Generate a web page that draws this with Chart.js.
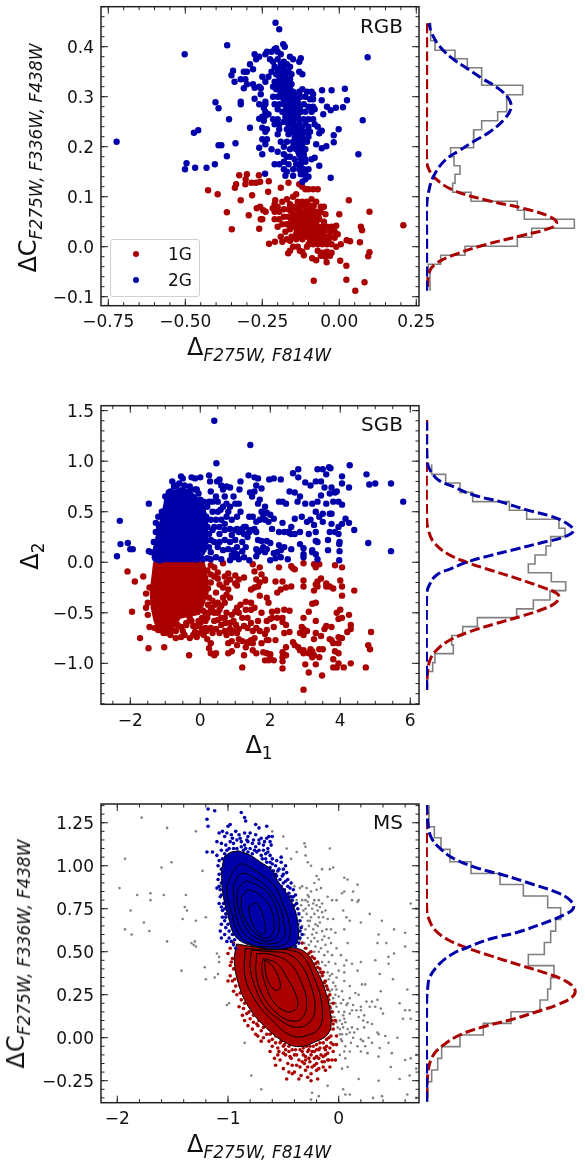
<!DOCTYPE html>
<html>
<head>
<meta charset="utf-8">
<script src="https://cdn.jsdelivr.net/npm/chart.js@4"></script>
<style>
  html, body { margin: 0; padding: 0; background: #fff; }
  body { position: relative; width: 585px; height: 1160px; overflow: hidden; font-family: 'DejaVu Sans', sans-serif; color: #111; }
  canvas { position: absolute; left: 0; }
  .lbl { position: absolute; white-space: nowrap; transform: translate(-50%, -50%); font-size: 24px; line-height: 30px; }
  .lbl.rot { transform: translate(-50%, -50%) rotate(-90deg); }
  .lbl sub { font-size: 17px; vertical-align: -6px; line-height: 0; }
  .lbl sub.i { font-style: italic; }
  .tag { position: absolute; font-size: 20px; line-height: 20px; right: 182px; }
  #legend { position: absolute; left: 110px; top: 239px; width: 88px; height: 56px; border: 1px solid #d0d0d0; border-radius: 3px; background: rgba(255,255,255,.8); font-size: 17px; }
  #legend div { position: absolute; left: 57px; }
  #legend i { position: absolute; left: -35px; top: 7px; width: 6px; height: 6px; border-radius: 50%; }
</style>
</head>
<body>
<canvas id="rgb" width="440" height="346" style="top:0"></canvas>
<canvas id="sgb" width="440" height="346" style="top:400px"></canvas>
<canvas id="ms" width="440" height="346" style="top:798px"></canvas>
<canvas id="rgbSide" width="165" height="346" style="top:0;left:420px"></canvas>
<canvas id="sgbSide" width="165" height="346" style="top:400px;left:420px"></canvas>
<canvas id="msSide" width="165" height="346" style="top:798px;left:420px"></canvas>

<div class="lbl rot" style="left:28px;top:158px">ΔC<sub class="i">F275W, F336W, F438W</sub></div>
<div class="lbl" style="left:259px;top:347px">Δ<sub class="i">F275W, F814W</sub></div>
<div class="tag" style="top:16px">RGB</div>
<div id="legend"></div>

<div class="lbl rot" style="left:30px;top:556px">Δ<sub>2</sub></div>
<div class="lbl" style="left:259px;top:745px">Δ<sub>1</sub></div>
<div class="tag" style="top:414px">SGB</div>

<div class="lbl rot" style="left:16px;top:954px">ΔC<sub class="i">F275W, F336W, F438W</sub></div>
<div class="lbl" style="left:259px;top:1144px">Δ<sub class="i">F275W, F814W</sub></div>
<div class="tag" style="top:812px">MS</div>

<script>
'use strict';

const RED = '#aa0000';
const BLUE = '#0000aa';
const GREY = '#808080';

const seriesNames = ['1G', '2G'];

// tick labels
const rgbXTicks = [-0.75, -0.5, -0.25, 0, 0.25];
const rgbXLabels = ['−0.75', '−0.50', '−0.25', '0.00', '0.25'];
const rgbYTicks = [-0.1, 0, 0.1, 0.2, 0.3, 0.4];
const rgbYLabels = ['−0.1', '0.0', '0.1', '0.2', '0.3', '0.4'];
const sgbXTicks = [-2, 0, 2, 4, 6];
const sgbXLabels = ['−2', '0', '2', '4', '6'];
const sgbYTicks = [-1, -0.5, 0, 0.5, 1, 1.5];
const sgbYLabels = ['−1.0', '−0.5', '0.0', '0.5', '1.0', '1.5'];
const msXTicks = [-2, -1, 0];
const msXLabels = ['−2', '−1', '0'];
const msYTicks = [-0.25, 0, 0.25, 0.5, 0.75, 1, 1.25];
const msYLabels = ['−0.25', '0.00', '0.25', '0.50', '0.75', '1.00', '1.25'];

// RGB scatter, flat x,y lists
const rgb2G = [-.207,.448,-.195,.435,-.364,.403,-.502,.385,.092,.379,-.182,.405,-.177,.4,-.723,.21,-.402,.289,-.392,.277,-.358,.255,-.472,.228,-.458,.233,-.392,.203,-.383,.203,-.337,.207,-.365,.181,-.404,.165,-.431,.158,-.468,.158,-.496,.167,-.501,.155,-.241,.146,-.028,.138,-.065,.162,.062,.185,.076,.253,-.002,.235,-.018,.223,-.018,.209,-.042,.201,-.057,.197,-.075,.205,-.065,.227,-.057,.232,.018,.316,.025,.293,.012,.279,-.011,.278,-.04,.28,-.028,.273,-.052,.265,-.056,.313,-.025,.313,-.057,.293,
-.24,.385,-.235,.39,-.22,.39,-.21,.395,-.205,.397,-.2,.39,-.19,.385,-.16,.38,-.15,.375,-.125,.377,-.13,.37,-.275,.385,-.27,.375,-.26,.38,-.29,.365,-.28,.355,-.31,.35,-.3,.35,-.345,.352,-.35,.343,-.34,.33,-.32,.335,-.305,.335,-.3,.325,-.31,.317,-.28,.325,-.275,.318,-.26,.32,-.255,.317,-.25,.34,-.24,.33,-.23,.34,-.275,.296,-.255,.305,-.32,.29,-.32,.285,-.26,.285,-.24,.29,-.24,.285,-.245,.278,-.24,.27,-.26,.256,-.25,.26,-.24,.262,-.23,.265,-.245,.252,-.29,.238,-.25,.238,-.24,.23,-.235,.235,-.25,.215,-.235,.215,-.24,.205,-.26,.198,-.25,.185,-.22,.195,-.2,.19,-.2,.225,-.19,.21,-.17,.21,-.18,.2,-.16,.195,-.15,.2,-.17,.18,
-.225,.375,-.215,.37,-.2,.375,-.19,.365,-.18,.37,-.17,.365,-.16,.36,-.21,.36,-.2,.355,-.19,.35,-.18,.355,-.165,.35,-.155,.345,-.13,.35,-.12,.345,-.22,.35,-.205,.345,-.195,.34,-.185,.34,-.175,.34,-.16,.335,-.21,.33,-.2,.33,-.19,.325,-.18,.33,-.17,.325,-.155,.325,-.215,.32,-.205,.315,-.195,.315,-.185,.315,-.175,.31,-.16,.315,-.15,.31,-.13,.31,-.12,.315,-.105,.31,-.09,.31,-.085,.305,-.215,.3,-.2,.3,-.19,.3,-.18,.3,-.17,.3,-.16,.3,-.15,.3,-.14,.295,-.125,.3,-.11,.3,-.095,.295,-.085,.295,-.21,.285,-.195,.285,-.18,.285,-.165,.285,-.15,.285,-.135,.285,-.115,.285,-.1,.28,-.085,.28,-.2,.275,-.185,.27,-.17,.27,-.155,.27,-.14,.27,-.125,.27,-.11,.27,-.09,.27,-.08,.275,-.175,.26,-.16,.26,-.145,.26,-.13,.255,-.115,.255,-.1,.255,-.085,.255,-.215,.255,-.2,.255,-.21,.245,-.195,.245,-.18,.25,-.165,.245,-.15,.245,-.13,.245,-.11,.245,-.1,.24,-.08,.245,-.07,.24,-.195,.235,-.17,.235,-.155,.23,-.14,.235,-.125,.23,-.11,.23,-.095,.23,-.165,.225,-.145,.22,-.13,.22,-.115,.215,-.1,.22,-.15,.21,-.135,.205,-.12,.205,-.105,.21,-.14,.195,-.125,.195,-.11,.195,-.13,.185,-.115,.185,-.18,.185,-.16,.18,-.145,.175,-.125,.175,-.11,.175,-.09,.175,-.08,.178,-.21,.165,-.195,.165,-.18,.17,-.165,.165,-.14,.165,-.125,.165,-.11,.17,-.18,.155,-.17,.15,-.15,.155,-.13,.155,-.115,.155,-.1,.155,-.175,.142,-.15,.142,-.125,.145,-.11,.145,-.1,.14,-.12,.13,-.11,.135,
-.188,.358,-.172,.348,-.178,.332,-.192,.33,-.168,.332,-.182,.322,-.165,.318,-.2,.322,-.19,.308,-.175,.305,-.16,.308,-.145,.303,-.18,.292,-.165,.292,-.15,.292,-.135,.29,-.172,.278,-.158,.278,-.142,.278,-.128,.278,-.162,.252,-.148,.252,-.135,.262,-.15,.238,-.135,.242,-.122,.238,-.14,.226,-.12,.225,-.128,.212,-.142,.212,-.122,.2,-.133,.19];
const rgb1G = [.208,.043,.098,.07,.031,.093,.052,-.088,.082,-.071,.023,-.066,-.083,-.068,.023,-.038,.003,-.028,-.041,-.031,.094,-.019,.098,-.011,.067,.009,.035,.011,.024,.013,.07,.04,.074,.033,-.426,.113,-.395,.105,-.365,.069,-.349,.035,-.32,.093,-.325,.143,-.3,.145,-.261,.143,-.304,.135,-.339,.118,-.335,.125,-.305,.125,-.285,.128,-.27,.128,-.257,.13,-.229,.131,-.283,.103,-.231,.11,-.294,.063,-.26,.036,-.255,.055,-.25,.055,-.268,.077,-.257,.08,-.247,.073,-.239,.07,-.216,.077,-.208,.093,-.228,.006,-.209,.01,-.166,-.013,-.16,-.008,-.128,-.008,-.115,-.017,-.088,-.023,-.075,-.027,.0,.065,
-.21,.085,-.2,.08,-.185,.09,-.17,.095,-.16,.085,-.15,.1,-.14,.105,-.13,.125,-.12,.12,-.11,.115,-.1,.115,-.085,.115,-.07,.115,-.165,.128,-.19,.118,-.21,.07,-.195,.07,-.18,.075,-.165,.075,-.15,.08,-.135,.09,-.12,.09,-.105,.09,-.09,.095,-.075,.09,-.06,.08,-.05,.08,-.21,.055,-.195,.055,-.18,.06,-.165,.06,-.15,.065,-.135,.07,-.12,.07,-.105,.075,-.09,.075,-.075,.07,-.06,.07,-.045,.065,-.05,.05,-.2,.04,-.185,.045,-.17,.045,-.155,.05,-.14,.055,-.125,.055,-.11,.06,-.095,.06,-.08,.055,-.065,.055,-.175,.03,-.16,.035,-.145,.04,-.13,.04,-.115,.045,-.1,.045,-.085,.04,-.07,.04,-.055,.04,-.04,.04,-.025,.04,-.01,.042,-.19,.02,-.17,.015,-.155,.02,-.14,.025,-.125,.03,-.11,.03,-.095,.03,-.08,.025,-.065,.03,-.05,.03,-.03,.03,-.015,.03,-.005,.025,-.185,.01,-.16,.012,-.14,.015,-.12,.015,-.105,.02,-.09,.015,-.075,.015,-.06,.015,-.045,.02,-.03,.02,-.015,.018,-.1,.005,-.085,.005,-.07,.005,-.055,.005,-.04,.005,-.025,.005,-.01,0,.005,.005,-.07,-.008,-.055,-.012,-.04,-.01,-.025,-.012,-.06,-.018,-.045,-.02,-.03,-.018,-.15,.0,-.135,.0,-.12,-.01,-.105,.0,
-.158,.072,-.143,.078,-.128,.08,-.113,.082,-.098,.082,-.083,.082,-.158,.057,-.143,.06,-.128,.062,-.113,.066,-.098,.068,-.083,.065,-.068,.062,-.15,.045,-.135,.047,-.12,.05,-.105,.052,-.09,.05,-.075,.048,-.138,.033,-.122,.037,-.107,.038,-.092,.037,-.077,.034,-.062,.034,-.13,.022,-.115,.024,-.1,.024,-.085,.022,-.07,.022,-.055,.024,-.095,.01,-.08,.01,-.065,.01,-.05,.012,-.035,.012];

// SGB scatter
const sgbCore1G = [-1.32,0,.1,0,.22,-.19,.12,-.39,-.03,-.51,-.58,-.55,-.77,-.65,-1.15,-.69,-1.3,-.59,-1.39,-.45,-1.42,-.29,-1.36,-.12];
const sgbCore2G = [-1.33,.01,-.05,.01,.12,.1,.2,.25,.2,.42,.1,.56,-.15,.66,-.5,.74,-.8,.7,-1,.62,-1.1,.45,-1.22,.3,-1.33,.13];
const sgb2G = [.4,1.4,1.43,1.16,.46,.98,-2.38,.06,-2.3,.41,-2.28,.18,-2.07,.19,-2,.13,-1.93,.13,-1.47,.11,-1.47,.58,-1.27,.39,-1.2,.45,-1.05,.5,-1,.65,-.9,.69,-.8,.8,-.68,.76,-.55,.85,-.5,.83,-.3,.75,-.25,.84,-.15,.83,-.1,.72,0,.84,-.05,.68,.25,.86,.28,.8,.3,.7,.48,.8,.55,.82,.6,.76,.45,.65,.35,.6,.5,.6,.65,.72,.75,.75,.85,.74,.7,.65,.95,.65,.58,.52,.65,.55,.75,.58,.8,.5,1,.58,1.1,.58,1.12,.72,1.15,.8,1.38,.86,1.55,.84,1.65,.83,1.6,.76,1.42,.69,1.48,.65,1.55,.7,1.75,.73,1.7,.62,1.65,.58,1.97,.82,2.1,.83,2.3,.82,2.35,.6,2.25,.6,2.45,.58,2.55,.7,2.7,.69,2.65,.88,2.8,.92,2.8,.84,3,.79,3.15,.76,2.78,.6,2.85,.65,3,.58,3.2,.58,3.35,.92,3.5,.92,3.6,.87,3.68,.94,3.72,.93,4.05,.85,3.3,.8,3.45,.8,3.55,.74,3.75,.74,3.9,.7,3.7,.68,3.85,.69,4.05,.78,4.25,.74,4.27,.96,4.75,.87,4.83,.77,5,.78,5.45,.78,5.8,.6,4.8,.19,5.45,.11,3.45,.66,3.35,.6,3.6,.58,3.8,.6,3.95,.6,4.05,.57,3.75,.48,3.7,.48,4.15,.43,4.25,.39,4.05,.38,3.95,.35,4.4,.32,3.75,.38,3.85,.3,3.7,.3,3.65,.22,3.95,.28,3.98,.2,3.97,.18,3.65,.12,3.98,.11,3.97,.02,3.35,.03,3.3,.08,3.2,.1,3.2,.12,3.35,.2,3.3,.21,3.5,.4,3.25,.37,3.15,.42,3.4,.45,3.3,.5,3.5,.48,2.9,.45,3.05,.4,2.7,.43,2.6,.35,2.85,.3,3.1,.28,3.3,.3,2.35,.39,2.4,.3,2.5,.3,2.55,.29,2.6,.28,2.7,.28,2.6,.13,2.85,.18,2.95,.14,2.95,.08,2.95,.05,2.25,.17,2.3,.12,2.2,.1,2.1,.09,2.4,.15,2.5,.03,2,.02,2.15,.04,2.3,.05,1.6,.3,1.6,.4,1.5,.45,1.4,.45,1.7,.42,1.8,.47,1.9,.49,1.75,.5,1.85,.55,2,.47,2.1,.43,1.85,.42,1.95,.4,2.05,.33,2.25,.3,1.75,.21,1.9,.21,2,.19,1.8,.15,1.9,.13,1.75,.12,1.6,.13,1.6,.06,1.65,.1,1.85,.1,1.4,.3,1.2,.33,1,.32,.85,.33,.7,.32,.55,.28,.9,.27,1.1,.3,1.25,.28,.55,.2,.7,.22,.85,.2,1,.22,1.2,.2,1.35,.25,.5,.15,.65,.12,.8,.13,.95,.12,1.05,.15,1.2,.11,1.25,.05,1.4,.02,1.1,.03,.95,.05,.85,.02,.6,.03,.45,.05,.3,.1,.2,.04,.08,.03,-.05,.13,.1,.13,.3,.22,.35,.32,.2,.35,.3,.42,.45,.42,.6,.42,.75,.45,.9,.42,
-1.4,.1,-1.33,.2,-1.27,.3,-1.18,.35,-1.1,.5,-.95,.6,-.85,.7,-.75,.75,-.6,.78,-.45,.76,-.3,.7,-.15,.72,0,.62,.1,.6,.2,.55,.17,.45,.2,.35,.15,.2,.05,.1,0,.05,-.1,.03,-1.2,.1,-1.3,.05,-1.15,.02,.25,.6,.35,.5,.4,.35,.5,.5,.55,.35,.7,.38,.85,.55,1.05,.45,1.15,.5,1.25,.35,1.3,.35,.25,.28,.4,.2,.3,.03,.05,.2,.25,.15,.9,.07,1.05,.08,1.3,.15,1.45,.32,1.55,.33,1.65,.22,1.05,.33];
const sgb1G = [2.95,-1.26,3.48,-1.12,3.1,-1.09,3,-1.01,3.3,-1.01,2.35,-1.05,1.2,-1.04,3.8,-1.04,3.9,-1.04,4.1,-1.04,4.3,-1,4.73,-1.04,4.8,-.82,4.85,-.86,4.88,-.69,3.95,-1,3.8,-.96,3.95,-.9,3.85,-.88,3.8,-.8,3.95,-.8,4.05,-.75,4.2,-.69,4.3,-.66,4.3,-.62,4.25,-.52,4.05,-.55,3.95,-.56,3.9,-.5,4,-.47,4.05,-.33,4.4,-.28,4.05,-.24,4,-.18,3.8,-.26,3.7,-.24,3.6,-.21,3.6,-.24,3.85,-.03,4.05,-.05,3.4,-.02,3.25,-.02,3.3,-.05,2.95,-.01,2.65,-.06,2.6,-.04,2.7,-.07,2.25,-.05,1.5,-.02,1.7,-.05,.65,-.01,.3,-.03,.4,-.05,.5,-.1,.7,-.14,.5,-.16,.4,-.14,.8,-.11,1,-.13,1.1,-.17,1.25,-.15,1,-.21,.85,-.17,.75,-.2,.55,-.22,.65,-.25,.8,-.27,1.05,-.23,1.55,-.09,1.6,-.17,1.75,-.12,1.85,-.17,1.85,-.18,1.7,-.2,1.65,-.24,1.55,-.25,1.45,-.27,1.7,-.33,1.9,-.35,2.15,-.19,2.35,-.19,2.3,-.27,2.2,-.3,2.45,-.25,2.6,-.24,2.95,-.18,2.95,-.24,3.25,-.28,3.3,-.22,3.35,-.19,3.45,-.16,3.35,-.24,3.3,-.4,3.2,-.41,3.1,-.49,2.95,-.55,3.3,-.58,2.9,-.64,2.95,-.66,3.05,-.68,2.85,-.7,2.95,-.72,3.3,-.7,3.45,-.73,3.55,-.66,3.6,-.63,3.75,-.64,3.7,-.76,3.75,-.77,3.95,-.74,3.4,-.86,3.5,-.86,3.4,-.94,3.2,-.88,3.15,-.86,3.1,-.9,3.25,-.92,3.2,-.94,3.25,-.76,2.65,-.79,2.7,-.82,2.8,-.84,2.85,-.87,2.95,-.87,2.95,-.9,2.45,-.84,2.35,-.89,2.35,-.94,2.45,-.92,2.35,-.98,2,-.91,2,-.95,1.9,-.9,1.8,-.89,1.85,-.97,1.95,-.97,2.1,-.97,1.9,-.77,1.95,-.77,2.15,-.77,2.55,-.69,2.4,-.7,2.45,-.62,2.35,-.59,2.35,-.55,2.2,-.55,2.55,-.48,2.4,-.47,2.2,-.48,2.05,-.49,2.05,-.55,1.95,-.4,1.75,-.5,1.65,-.58,1.9,-.58,2,-.56,2.1,-.64,1.9,-.67,1.85,-.71,1.7,-.68,1.6,-.65,1.45,-.6,1.35,-.55,1.3,-.47,1.45,-.47,1.55,-.45,1.45,-.4,1.3,-.39,1.15,-.42,1.05,-.45,1,-.49,.9,-.52,.95,-.58,1.1,-.5,1.2,-.55,1.25,-.63,1.35,-.65,1.5,-.68,1.55,-.75,1.45,-.77,1.35,-.79,1.3,-.84,1.2,-.78,1.1,-.76,1.05,-.7,.95,-.68,.9,-.7,.85,-.6,.7,-.68,.6,-.62,.5,-.57,.45,-.66,.55,-.7,.3,-.65,.15,-.58,.25,-.5,.35,-.48,.55,-.47,.6,-.43,.7,-.55,.75,-.5,.65,-.35,.85,-.35,.75,-.32,.7,-.4,.5,-.4,.45,-.3,.3,-.2,.25,-.35,.15,-.3,.1,-.15,.15,-.5,0,-.6,-.1,-.63,-.2,-.63,-.3,-.55,-.4,-.62,-.55,-.64,-.7,-.68,-.85,-.72,-.95,-.7,-1.05,-.7,-1.2,-.67,-1.3,-.65,-1.45,-.64,-1.5,-.52,-1.55,-.31,-1.5,-.4,-1.45,-.25,-1.55,-.45,-1.95,-.49,-1.87,-.19,-2.08,-.09,-1.63,-.14,-1.72,-.75,-1.48,-.85,-1.03,-.84,-.32,-.92,-.7,-.75,-.55,-.74,-.45,-.72,-.3,-.75,-.2,-.72,-.1,-.74,0,-.7,.1,-.72,.2,-.76,.3,-.8,.25,-.85,.3,-.9,.4,-.92,.45,-.9,.8,-.8,.8,-.9,.9,-.88,.75,-.72,.9,-.78,1.05,-.82,1.25,-.92,1.35,-.8,1.5,-.87,1.5,-.8,1.6,-.9,1.75,-.8,
.2,-.08,.3,-.12,.22,-.26,.35,-.38,.42,-.42,.3,-.45,.22,-.42,.2,-.55,.08,-.48,.05,-.55,-.05,-.58,-.25,-.58,-.4,-.6,-.65,-.62,-.85,-.68,-.5,-.68,-.15,-.69,.05,-.66,.18,-.68,.4,-.5,.5,-.5,.4,-.58,.6,-.55,.35,-.7,.72,-.6,.85,-.66,1.02,-.62,1.1,-.66,.15,-.65];

// MS contours, closed outlines from outer to inner
const ms2GContours = [
  [-.907,1.087,-.801,1.062,-.711,1.023,-.605,.975,-.545,.907,-.47,.839,-.395,.742,-.364,.626,-.38,.548,-.44,.525,-.59,.514,-.741,.529,-.877,.558,-.952,.607,-.997,.703,-1.036,.8,-1.057,.917,-1.036,1.043,-.982,1.076,-.907,1.087],
  [-.967,.955,-.892,1.01,-.786,.984,-.681,.94,-.575,.878,-.5,.771,-.446,.665,-.446,.578,-.5,.539,-.651,.529,-.801,.545,-.907,.607,-.967,.723,-1.012,.859,-.967,.955],
  [-.952,.888,-.877,.955,-.771,.932,-.651,.878,-.545,.781,-.494,.665,-.5,.578,-.62,.545,-.771,.564,-.877,.626,-.937,.742,-.952,.888],
  [-.916,.859,-.846,.907,-.741,.888,-.636,.839,-.56,.742,-.536,.645,-.575,.578,-.681,.564,-.801,.607,-.877,.694,-.916,.781,-.916,.859],
  [-.877,.82,-.816,.859,-.711,.829,-.62,.762,-.584,.645,-.62,.587,-.711,.587,-.816,.655,-.877,.742,-.877,.82],
  [-.816,.762,-.741,.781,-.681,.703,-.666,.616,-.711,.601,-.786,.674,-.816,.762]
];
const ms1GContours = [
  [-.922,.545,-.771,.529,-.59,.514,-.41,.523,-.289,.49,-.199,.393,-.123,.277,-.072,.122,-.093,.025,-.229,-.029,-.349,-.052,-.47,-.033,-.651,.054,-.816,.18,-.907,.316,-.943,.452,-.922,.545],
  [-.846,.519,-.651,.51,-.44,.51,-.319,.471,-.214,.335,-.154,.2,-.169,.064,-.304,.01,-.44,.016,-.605,.103,-.756,.219,-.846,.355,-.846,.519],
  [-.786,.51,-.62,.5,-.47,.49,-.349,.432,-.259,.316,-.214,.18,-.259,.093,-.38,.06,-.53,.103,-.666,.18,-.756,.297,-.801,.413,-.786,.51],
  [-.741,.49,-.59,.481,-.44,.432,-.334,.316,-.289,.2,-.334,.112,-.44,.099,-.575,.151,-.696,.258,-.747,.374,-.741,.49],
  [-.681,.461,-.56,.432,-.455,.335,-.38,.238,-.38,.171,-.47,.151,-.59,.209,-.666,.316,-.696,.413,-.681,.461],
  [-.666,.452,-.605,.422,-.545,.355,-.53,.287,-.575,.277,-.636,.326,-.666,.403,-.666,.452]
];

// MS scatter, stars outside the filled outer contours
const ms2G = [-1.18,1.33,-1.12,1.32,-.88,1.31,-1.19,1.27,-1.18,1.23,-.85,1.28,-.84,1.26,-.75,1.24,-.72,1.22,-.65,1.23,-.98,1.24,-1,1.23,-1.08,1.19,-1.05,1.2,-1.03,1.17,-.97,1.18,-.93,1.2,-.9,1.18,-.85,1.19,-.82,1.17,-.8,1.19,-.75,1.18,-.7,1.16,-.65,1.16,-.62,1.14,-.6,1.17,-1.1,1.14,-1.06,1.13,-1.02,1.12,-.98,1.14,-.95,1.13,-.92,1.15,-.88,1.14,-.85,1.12,-.82,1.14,-.78,1.13,-.75,1.11,-.72,1.13,-.68,1.12,-.64,1.1,-.61,1.12,-1.19,1.08,-1.14,1.08,-1.1,1.06,-1.06,1.09,-1.03,1.07,-.86,1.09,-.82,1.08,-.78,1.07,-.74,1.08,-.7,1.06,-.66,1.07,-.62,1.06,-.6,1.04,-.56,1.03,-.52,1.05,-1.09,1,-1.06,.98,-1.08,.95,-1.05,.96,-1.09,.92,-1.06,.9,-1.07,.86,-1.04,.87,-1.1,.87,-1.07,.82,-1.04,.78,-1.05,.74,-1.02,.72,-1.03,.68,-1.06,.66,-1.07,.62,-1.02,.64,-1.06,.58,-1.03,.6,-.99,.62,-.97,.56,-1.01,.56,-.95,.54,-.93,.52,-.6,1.01,-.57,1,-.54,.98,-.52,1.02,-.5,.98,-.48,1,-.5,.95,-.47,.96,-.46,.92,-.43,.9,-.5,.9,-.44,.87,-.41,.86,-.39,.83,-.42,.8,-.38,.78,-.4,.73,-.37,.75,-.36,.72,-.39,.68,-.35,.68,-.38,.64,-.35,.62,-.37,.58,-.36,.55,-.39,.53,-.66,1.04,-.62,1.02,-.57,.95,-.52,.88,-.45,.82,-.42,.76,
-1.01,1.19,-.99,1.1,-1.01,1.09,-.95,1.1,-.92,1.1,-.88,1.11,-.84,1.1,-.8,1.1,-.76,1.09,-.72,1.09,-.68,1.09,-.64,1.08,-.96,1.16,-.89,1.16,-.83,1.15,-.77,1.15,-.72,1.15,-.67,1.14,-.63,1.17,-1.02,1.05,-1.05,1.04,-1.08,1.03,-.69,1.04,-.65,1.02,-.62,.99,-.59,.97,-.56,.94,-.53,.92,-.55,.97,-.51,.94,-.48,.91,-.46,.88,-.49,.86,-.45,.84,-.43,.82,-.41,.82,-.44,.78,-.4,.77,-.42,.72,-.39,.7,-.37,.66,-.35,.58,-.34,.64,-.33,.6,-1.08,.88,-1.06,.83,-1.08,.78,-1.06,.76,-1.03,.75,-1.05,.7,-1.02,.7,-1,.66,-.99,.58,-.96,.6,-.94,.57];
const ms1G = [-.98,.52,-1,.49,-.96,.46,-.98,.42,-.95,.4,-.98,.36,-.96,.33,-.93,.3,-1,.33,-.92,.25,-.95,.27,-.88,.22,-.9,.18,-.86,.17,-.87,.13,-.83,.14,-.85,.1,-.8,.11,-.82,.07,-.77,.09,-.78,.05,-.75,.02,-.73,.07,-.7,.04,-.73,.01,-.68,0,-.7,-.02,-.65,.02,-.63,-.02,-.6,.03,-.6,-.01,-.6,-.05,-.57,-.03,-.55,-.06,-.52,-.02,-.5,-.05,-.48,-.07,-.55,-.1,-.58,-.12,-.62,-.08,-.57,-.16,-.48,-.1,-.45,-.08,-.43,-.12,-.46,-.15,-.42,-.16,-.5,-.18,-.45,-.2,-.4,-.2,-.38,-.1,-.36,-.13,-.35,-.17,-.33,-.08,-.3,-.11,-.31,-.15,-.3,-.19,-.27,-.07,-.25,-.1,-.26,-.14,-.24,-.17,-.25,-.21,-.22,-.08,-.2,-.11,-.2,-.15,-.18,-.07,-.16,-.1,-.15,-.14,-.14,-.17,-.12,-.07,-.1,-.09,-.09,-.13,-.08,-.06,-.05,-.08,-.05,-.04,-.06,-.13,-.03,-.13,-.02,-.04,-.1,-.13,-.12,-.19,-.08,-.17,-.34,-.22,-.36,-.24,-.28,-.23,-.25,-.25,-.19,-.24,-.47,-.24,-.02,.01,-.07,.01,-.05,.05,-.08,.05,-.06,.1,-.03,.1,-.06,.15,-.05,.2,-.09,.22,-.08,.25,-.1,.28,-.12,.33,-.14,.38,-.17,.4,-.19,.44,-.22,.46,-.25,.5,-.3,.52,-.33,.55,-.85,.4,-.92,.48,-.95,.55,
-.72,.1,-.68,.06,-.62,.02,-.57,.01,-.53,-.03,-.49,-.04,-.45,-.05,-.42,-.07,-.39,-.07,-.35,-.07,-.32,-.06,-.29,-.05,-.26,-.05,-.23,-.05,-.2,-.04,-.17,-.03,-.14,-.03,-.11,-.01,-.09,0,-.07,-.03,-.13,-.06,-.17,-.06,-.2,-.07,-.24,-.08,-.28,-.08,-.32,-.1,-.4,-.1,-.44,-.11,-.5,-.09,-.54,-.08,-.3,-.13,-.27,-.12,-.22,-.12,-.18,-.12,-.14,-.11,-.12,-.1,-.11,-.05,-.53,-.13,-.38,-.16,-.33,-.14,-.28,-.17,-.22,-.16,-.18,-.18,-.13,-.14,-.2,-.19,-.42,-.21,-.05,.08,-.07,.12,-.08,.18,-.1,.2,-.1,.24,-.11,.3,-.13,.32,-.15,.36,-.16,.38,-.19,.41,-.21,.43,-.24,.47,-.27,.49,-.89,.3,-.89,.26,-.85,.2,-.81,.15,-.77,.13,-.74,.08,-.91,.38,-.94,.34,-.97,.44,-.92,.44];
const msGrey = [-1.78,1.28,-1.55,1.22,-1.29,1.2,-1.93,1.04,-1.51,1.02,-1.6,.99,-1.23,.97,-1.98,.87,-1.82,.83,-1.7,.84,-1.58,.83,-1.38,.83,-1.7,.8,-1.88,.74,-1.39,.76,-1.37,.74,-1.41,.69,-1.2,.7,-1.29,.68,-1.76,.67,-1.93,.63,-1.87,.6,-1.71,.62,-1.55,.56,-1.33,.55,-1.3,.56,-1.31,.54,-1.29,.53,-1.42,.39,-1.21,.41,-1.1,.49,-1.08,.47,-1.08,.44,-1.2,.34,-1.12,.35,-1.09,.37,-1.01,.19,-.99,.2,-.85,-.03,-.79,-.22,-.7,-.3,-.24,-.32,-.25,-.36,-.18,-.34,-.1,-.28,-.6,1.2,-.5,1.17,-.47,1.1,-.31,1.13,-.3,1.11,-.08,1.1,-.43,1.04,-.38,1.08,-.3,1.06,-.28,1.02,-.25,1,-.15,.98,-.08,.98,-.05,.99,-.2,.94,-.18,.92,-.22,.9,.05,.93,.08,.92,.17,.89,-.4,.88,-.35,.87,-.33,.88,-.29,.87,-.28,.83,-.25,.85,-.2,.86,-.16,.87,.05,.85,.03,.84,.13,.85,-.38,.8,-.33,.8,-.3,.8,-.27,.82,-.22,.8,-.18,.8,-.1,.82,-.06,.8,-.02,.8,.12,.8,.18,.8,-.34,.77,-.3,.75,-.27,.77,-.24,.75,-.2,.77,-.17,.76,-.15,.78,.04,.74,.17,.79,.28,.72,.65,.78,.7,.75,-.33,.7,-.29,.72,-.25,.7,-.22,.72,-.18,.7,-.14,.7,-.1,.69,-.05,.69,.07,.7,.1,.68,.2,.67,.39,.68,.5,.63,.6,.61,-.33,.65,-.3,.63,-.27,.65,-.23,.63,-.19,.65,-.15,.62,-.11,.63,-.07,.63,-.03,.61,.05,.63,.36,.6,.35,.55,-.35,.57,-.31,.55,-.28,.58,-.25,.56,-.22,.58,-.19,.56,-.15,.57,-.12,.54,-.07,.55,-.02,.52,.08,.55,.43,.55,.6,.53,-.33,.5,-.29,.52,-.26,.5,-.22,.5,-.18,.5,-.13,.48,-.1,.5,-.06,.48,.02,.48,.07,.45,.45,.47,.5,.49,-.25,.45,-.2,.44,-.15,.44,-.09,.44,-.03,.43,.05,.42,.12,.43,.2,.44,.33,.45,.45,.43,-.22,.4,-.18,.38,-.14,.36,-.1,.38,-.06,.37,0,.39,.05,.38,.17,.39,.37,.37,-.18,.33,-.13,.33,-.09,.34,-.05,.32,-.02,.35,.05,.33,.1,.3,.21,.31,.24,.31,.49,.34,-.15,.3,-.1,.29,-.06,.28,-.02,.28,.03,.27,.15,.26,.38,.27,.62,.28,-.09,.24,-.05,.23,0,.24,.04,.22,.1,.23,.18,.25,.25,.21,.3,.21,.35,.22,.55,.2,-.07,.2,-.03,.2,.02,.2,.07,.19,.13,.19,.2,.18,.28,.18,.33,.18,.38,.17,.6,.16,.64,.16,-.05,.15,0,.15,.04,.13,.1,.14,.16,.16,.23,.13,.4,.14,.58,.11,.65,.11,-.02,.09,.03,.08,.06,.09,.22,.1,.26,.09,.3,.08,.01,.05,.04,.06,.1,.03,.17,.05,.23,.06,.35,.03,.01,.02,.07,.02,.13,0,.2,-.01,.22,-.02,.27,.0,.36,.02,.42,.01,.53,.0,.03,-.02,.06,-.05,.11,-.03,.17,-.05,.24,-.05,.3,-.03,.37,-.06,.45,-.03,.1,-.08,.05,-.08,.01,-.1,.06,-.12,.2,-.08,.26,-.09,.36,-.11,.48,-.09,.6,-.13,.65,-.12,.7,-.1,.03,-.18,.08,-.17,.18,-.24,.36,-.25,.47,-.17,.55,-.24,.64,-.22,.7,-.18,.04,-.3,.06,-.33,.1,-.33,.31,-.35,.39,-.34,.62,-.33,.7,-.35,
-.32,.74,-.26,.68,-.31,.6,-.24,.6,-.27,.54,-.31,.48,-.21,.53,-.16,.52,-.24,.42,-.12,.42,-.18,.43,-.08,.36,-.03,.3,-.12,.3,-.08,.27,-.03,.25,-.07,.17,-.02,.18,-.04,.12,.01,.1,-.01,.06,.03,.02,.02,-.01,.05,.11,.08,.05,.12,.06,.14,.03,.05,.15,.08,.2,.12,.16,.18,.12,.2,.16,-.28,.79,-.23,.78,-.19,.74,-.15,.73,-.12,.74,-.28,.68,-.21,.66,-.17,.67,-.2,.61,-.13,.59,-.09,.58];

// side panels: histogram bin edges and heights, fitted curves as density,y
const rgbHistEdges = [.448,.412,.393,.376,.358,.323,.304,.27,.252,.234,.217,.198,.18,.162,.145,.127,.109,.091,.073,.055,.037,.019,.001,-.017,-.035,-.052,-.088];
const rgbHistCounts = [1.2,2.5,8.5,12.2,16.5,28.8,24,21.3,16.5,14.2,14,7.2,8.2,10,8.5,7.8,13.3,27.2,29.3,44.3,31.5,27.2,11.5,4.2,.5,1];
const rgbFit2G = [0,-.088,0,.027,0,.08,.5,.107,2,.14,5.5,.173,10,.193,14,.21,19,.23,23,.253,25.3,.277,24.5,.297,21,.319,16.5,.337,12,.357,8,.375,4,.4,1.5,.427,.7,.447];
const rgbFit1G = [0,.447,0,.293,0,.173,.5,.157,2.5,.137,8,.113,18,.093,30,.075,37,.06,39,.048,37,.037,29,.023,17,.003,8,-.017,3,-.033,.8,-.05,.2,-.087];
const sgbHistEdges = [.969,.87,.784,.692,.6,.514,.425,.336,.254,.161,.072,-.017,-.103,-.192,-.28,-.373,-.461,-.548,-.637,-.725,-.817,-.904,-.993,-1.081,-1.262];
const sgbHistCounts = [1.5,5.7,10,13.8,24.8,30,39.7,41.5,37.2,35.8,32.5,30.5,37.4,41.7,37,32,27,15.2,10.8,7.5,8,2.5,1.8,.2];
const sgbFit2G = [0,-1.262,0,-.324,.8,-.225,3,-.126,7.5,-.06,12.5,.006,19,.066,27,.132,35,.198,41,.247,44,.31,42,.386,37,.458,30,.518,22,.6,14,.666,8,.748,3.5,.814,1,.913,.2,.995,0,1.391];
const sgbFit1G = [0,1.408,0,.435,.5,.319,2,.204,6,.089,12,0,19,-.076,27,-.159,35,-.251,39,-.307,39.7,-.35,38.5,-.406,35,-.462,29,-.528,21,-.604,13,-.686,7,-.769,3,-.868,1,-.967,.2,-1.115,0,-1.263];
const msHistEdges = [1.353,1.227,1.163,1.095,1.023,.955,.891,.824,.756,.688,.62,.554,.484,.419,.349,.283,.219,.151,.083,.016,-.052,-.12,-.188,-.256,-.372];
const msHistCounts = [.7,2.3,4.3,7,13.3,22,29,36.3,40.2,38.7,37.2,35.3,30.5,38.2,37.2,36.3,34,25.3,17,10,4.5,3.3,1.5,.3];
const msFit2G = [0,-.372,0,.209,.3,.287,1,.355,4,.432,8,.49,12,.523,19,.574,27,.612,35,.665,41,.713,44,.752,43,.8,39,.845,32,.891,23,.946,15,.988,8,1.043,4,1.101,1.5,1.159,.5,1.227,0,1.353];
const msFit1G = [0,1.353,0,.752,.8,.684,2.5,.626,6.5,.568,12,.523,19,.477,28,.422,36,.374,42,.326,44.5,.277,43.5,.234,39,.19,33,.151,25,.103,17,.064,10,.016,5,-.043,2,-.101,.5,-.188,0,-.372];

const pairs = (flat) => {
  const out = [];
  for (let i = 0; i < flat.length; i += 2) out.push({ x: flat[i], y: flat[i + 1] });
  return out;
};
const closed = (flat) => {
  const pts = pairs(flat);
  pts.push(pts[0]);
  return pts;
};

const dots = (data, color, r) => ({
  type: 'scatter', data: pairs(data), backgroundColor: color, borderColor: color, borderWidth: 0, pointRadius: r
});
const shape = (pts, color) => ({
  type: 'scatter', data: pts, showLine: true, tension: 0, fill: 'shape', backgroundColor: color, borderColor: color, borderWidth: 2, pointRadius: 0
});
const contour = (flat, fillColor) => ({
  type: 'scatter', data: pairs(flat), showLine: true, tension: 0.4, fill: fillColor ? 'shape' : false,
  backgroundColor: fillColor || 'transparent', borderColor: '#000', borderWidth: 1, pointRadius: 0
});

// inward major and minor ticks on all four sides, plus the frame
const frameTicks = {
  id: 'frameTicks',
  afterDatasetsDraw(chart, args, opts) {
    const { ctx, chartArea: a, scales } = chart;
    ctx.save();
    ctx.strokeStyle = '#222';
    ctx.lineWidth = 1;
    const mark = (scale, val, len) => {
      const p = scale.getPixelForValue(val);
      ctx.beginPath();
      if (scale.axis === 'x') {
        ctx.moveTo(p, a.bottom); ctx.lineTo(p, a.bottom - len);
        ctx.moveTo(p, a.top); ctx.lineTo(p, a.top + len);
      } else {
        ctx.moveTo(a.left, p); ctx.lineTo(a.left + len, p);
        ctx.moveTo(a.right, p); ctx.lineTo(a.right - len, p);
      }
      ctx.stroke();
    };
    [[scales.x, opts.xMinor], [scales.y, opts.yMinor]].forEach(([scale, step]) => {
      const first = Math.ceil(scale.min / step);
      const last = Math.floor(scale.max / step);
      for (let k = first; k <= last; k++) mark(scale, k * step, 3.5);
      scale.ticks.forEach(t => mark(scale, t.value, 7));
    });
    ctx.lineWidth = 1.5;
    ctx.strokeRect(a.left, a.top, a.right - a.left, a.bottom - a.top);
    ctx.restore();
  }
};

const axis = (min, max, values, labels, fit, padding, labelOffset) => ({
  type: 'linear', min, max,
  grid: { display: false, drawTicks: false },
  border: { display: false },
  afterFit: (s) => {
    fit(s);
    s.paddingTop = 0;
    s.paddingBottom = 0;
    s.paddingLeft = 0;
    s.paddingRight = 0;
  },
  afterBuildTicks: (s) => { s.ticks = values.map(v => ({ value: v })); },
  ticks: {
    autoSkip: false, maxRotation: 0, padding, labelOffset, color: '#111',
    font: { family: 'DejaVu Sans', size: 17 },
    callback: (v) => labels[values.indexOf(values.find(t => Math.abs(t - v) < 1e-9))]
  }
});

// Chart.js paints the first dataset on top, so the lists below go bottom to top and get reversed here
const mainChart = (id, datasets, p) => new Chart(document.getElementById(id), {
  data: { datasets: datasets.reverse() },
  options: {
    responsive: false, animation: false, devicePixelRatio: 1,
    layout: { padding: { top: p.top, right: 21, left: 0, bottom: 0 } },
    plugins: { legend: { display: false }, tooltip: { enabled: false }, frameTicks: { xMinor: p.xMinor, yMinor: p.yMinor } },
    scales: {
      x: axis(p.x[0], p.x[1], p.xTicks, p.xLabels, (s) => { s.height = 346 - p.bottom; }, 7, 0),
      y: axis(p.y[0], p.y[1], p.yTicks, p.yLabels, (s) => { s.width = 101; }, 7, 1.5)
    }
  },
  plugins: [frameTicks]
});

const fitLine = (flat, color) => ({
  type: 'scatter', data: pairs(flat), showLine: true, tension: 0.4, clip: 0, borderColor: color, backgroundColor: color,
  borderWidth: 3, borderDash: [10, 4], pointRadius: 0
});
const histLine = (edges, counts) => {
  const pts = [];
  counts.forEach((c, i) => {
    pts.push({ x: c, y: edges[i] });
    pts.push({ x: c, y: edges[i + 1] });
  });
  return {
    type: 'scatter', data: pts, showLine: true, tension: 0, clip: false, borderColor: GREY, borderWidth: 1.6, pointRadius: 0
  };
};

const sideChart = (id, hist, fit1, fit2, p) => new Chart(document.getElementById(id), {
  data: { datasets: [fitLine(fit2, BLUE), fitLine(fit1, RED), hist] },
  options: {
    responsive: false, animation: false, devicePixelRatio: 1,
    layout: { padding: { top: p.top, bottom: 346 - p.bottom, left: 6, right: 0 } },
    plugins: { legend: { display: false }, tooltip: { enabled: false } },
    scales: {
      x: { type: 'linear', display: false, min: -0.2, max: 47.5 },
      y: { type: 'linear', display: false, min: p.y[0], max: p.y[1] }
    }
  }
});

const rgbAxes = { top: 6.7, bottom: 305.7, x: [-0.7737, 0.2588], y: [-0.118, 0.48], xTicks: rgbXTicks, xLabels: rgbXLabels, yTicks: rgbYTicks, yLabels: rgbYLabels, xMinor: 0.05, yMinor: 0.02 };
const sgbAxes = { top: 5.7, bottom: 304.3, x: [-2.837, 6.25], y: [-1.405, 1.549], xTicks: sgbXTicks, xLabels: sgbXLabels, yTicks: sgbYTicks, yLabels: sgbYLabels, xMinor: 0.5, yMinor: 0.1 };
const msAxes = { top: 6, bottom: 304.7, x: [-2.147, 0.725], y: [-0.378, 1.359], xTicks: msXTicks, xLabels: msXLabels, yTicks: msYTicks, yLabels: msYLabels, xMinor: 0.2, yMinor: 0.05 };

mainChart('rgb', [dots(rgb1G, RED, 3.2), dots(rgb2G, BLUE, 3.2)], rgbAxes);

mainChart('sgb', [
  shape(closed(sgbCore1G), RED), dots(sgb1G, RED, 3.2),
  shape(closed(sgbCore2G), BLUE), dots(sgb2G, BLUE, 3.2)
], sgbAxes);

mainChart('ms', [
  dots(msGrey, GREY, 1.3),
  dots(ms1G, RED, 1.8), contour(ms1GContours[0], RED),
  dots(ms2G, BLUE, 1.8), contour(ms2GContours[0], BLUE),
  ...ms1GContours.slice(1).map(c => contour(c)),
  ...ms2GContours.slice(1).map(c => contour(c))
], msAxes);

sideChart('rgbSide', histLine(rgbHistEdges, rgbHistCounts), rgbFit1G, rgbFit2G, rgbAxes);
sideChart('sgbSide', histLine(sgbHistEdges, sgbHistCounts), sgbFit1G, sgbFit2G, sgbAxes);
sideChart('msSide', histLine(msHistEdges, msHistCounts), msFit1G, msFit2G, msAxes);

document.getElementById('legend').innerHTML = seriesNames.map((name, i) =>
  `<div style="top:${i === 0 ? 4 : 30}px"><i style="background:${i === 0 ? RED : BLUE}"></i>${name}</div>`
).join('');
</script>
</body>
</html>
